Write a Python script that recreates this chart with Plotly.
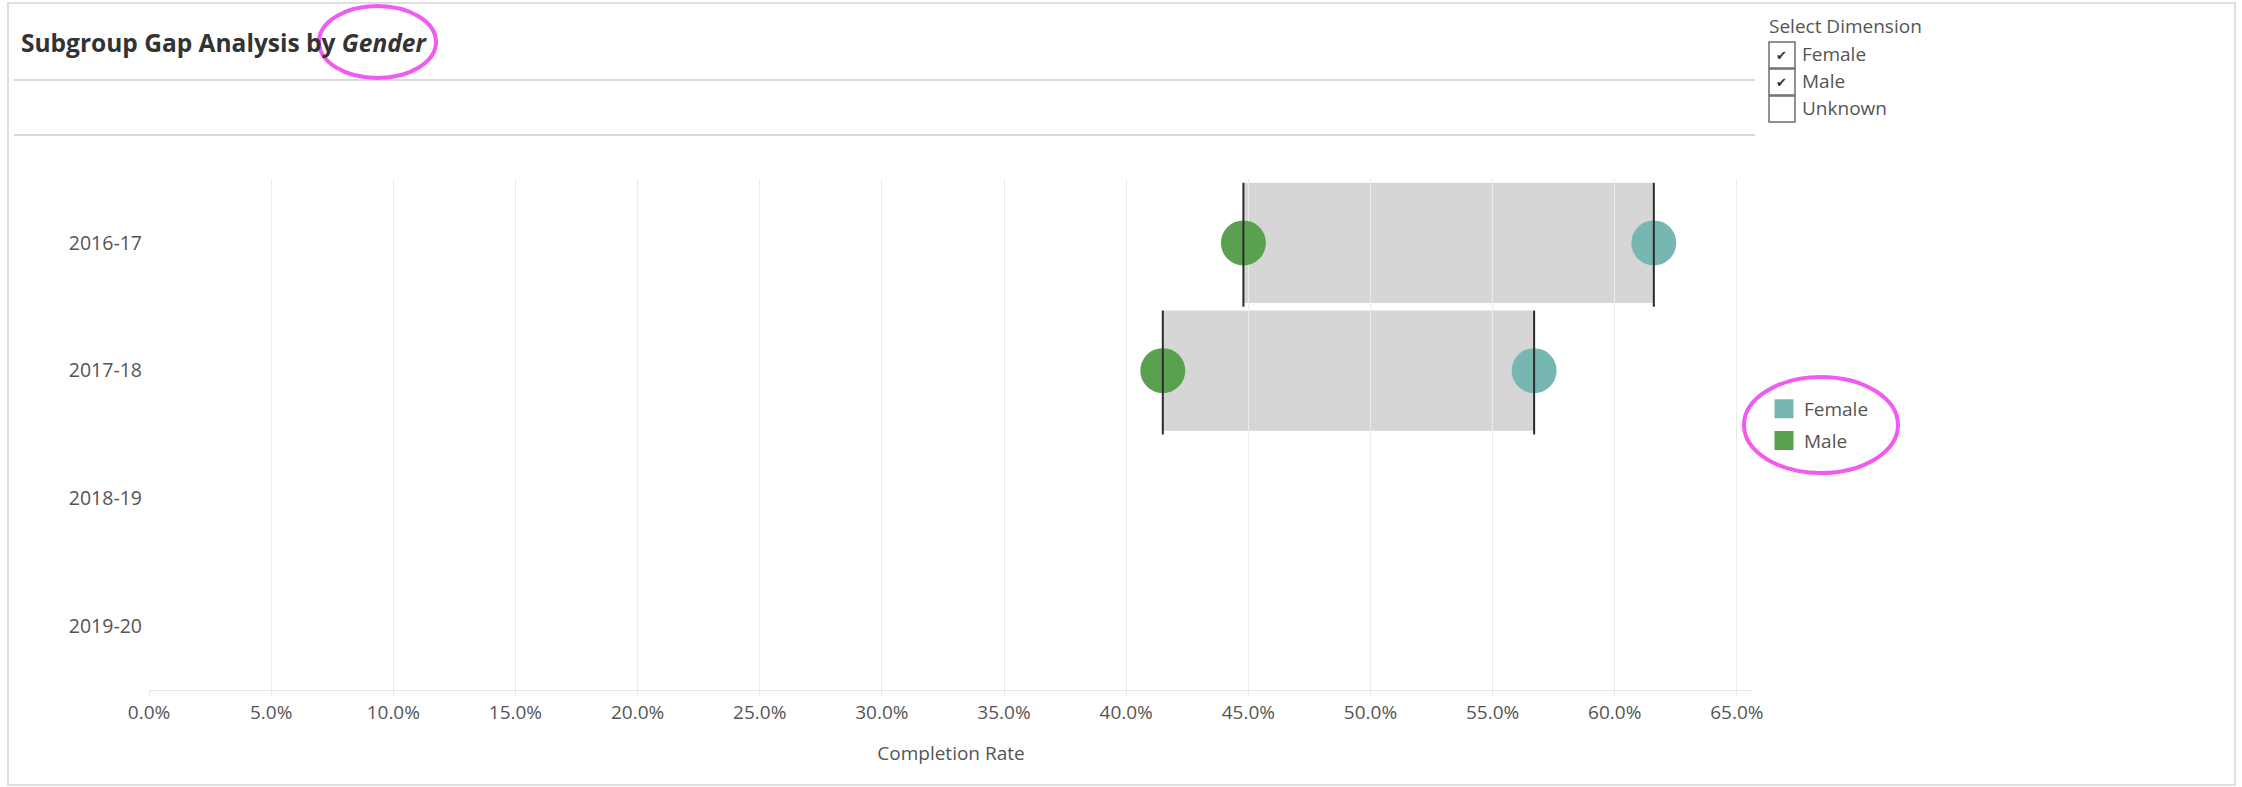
import plotly.graph_objects as go

# ---- data -------------------------------------------------------------
years = ["2016-17", "2017-18", "2018-19", "2019-20"]
female_rate = [0.616, 0.567, None, None]
male_rate = [0.448, 0.415, None, None]
x_ticks = [0.0, 0.05, 0.10, 0.15, 0.20, 0.25, 0.30, 0.35, 0.40, 0.45, 0.50, 0.55, 0.60, 0.65]
dimension_options = ["Female", "Male", "Unknown"]
dimension_checked = [True, True, False]

# ---- styling ----------------------------------------------------------
FEMALE_COLOR = "#76b7b2"
MALE_COLOR = "#59a14f"
RANGE_COLOR = "#d6d6d6"
FONT = "Open Sans"
TEXT = "#555555"
HILITE = "#f05cf0"

W, H = 2242, 787
L, R, T, B = 149, 489, 179, 97
PW, PH = W - L - R, H - T - B


def px(x):
    """pixel x -> paper x"""
    return (x - L) / PW


def py(y):
    """pixel y (from top) -> paper y"""
    return (H - B - y) / PH


fig = go.Figure()

# gap bars between the two subgroup rates (drawn beneath the gridlines)
for i, (f, m) in enumerate(zip(female_rate, male_rate)):
    if f is None or m is None:
        continue
    fig.add_shape(type="rect", xref="x", yref="y", layer="below",
                  x0=min(f, m), x1=max(f, m), y0=i - 0.47, y1=i + 0.47,
                  fillcolor=RANGE_COLOR, line=dict(width=0))

# subgroup dots
fig.add_trace(go.Scatter(x=female_rate, y=years, mode="markers", name="Female",
                         marker=dict(size=45, color=FEMALE_COLOR), showlegend=False,
                         hovertemplate="%{y}<br>Female: %{x:.1%}<extra></extra>"))
fig.add_trace(go.Scatter(x=male_rate, y=years, mode="markers", name="Male",
                         marker=dict(size=45, color=MALE_COLOR), showlegend=False,
                         hovertemplate="%{y}<br>Male: %{x:.1%}<extra></extra>"))

# reference lines at both ends of each gap
lx, ly = [], []
for i, (f, m) in enumerate(zip(female_rate, male_rate)):
    for v in (f, m):
        if v is None:
            continue
        lx += [v, v, None]
        ly += [i - 0.47, i + 0.5, None]
fig.add_trace(go.Scatter(x=lx, y=ly, mode="lines", yaxis="y2",
                         line=dict(color="#2b2b2b", width=2),
                         showlegend=False, hoverinfo="skip"))

# colour legend
for name, col in (("Female", FEMALE_COLOR), ("Male", MALE_COLOR)):
    fig.add_trace(go.Scatter(x=[None], y=[None], mode="markers", name=name,
                             legendgroup=name,
                             marker=dict(symbol="square", size=16, color=col,
                                         line=dict(color=col, width=3))))

fig.update_layout(
    width=W, height=H,
    margin=dict(l=L, r=R, t=T, b=B),
    paper_bgcolor="white", plot_bgcolor="white",
    font=dict(family=FONT, size=19, color=TEXT),
    showlegend=True,
    legend=dict(x=px(1764), y=py(390), xanchor="left", yanchor="top",
                font=dict(size=19, color=TEXT), tracegroupgap=4,
                bgcolor="rgba(0,0,0,0)"),
    xaxis=dict(range=[0, 0.6566], tickvals=x_ticks, tickformat=".1%",
               showgrid=True, gridcolor="#ebebeb", gridwidth=1,
               zeroline=False, showline=True, linecolor="#e8e8e8", linewidth=1,
               ticks="outside", ticklen=5, tickcolor="#e8e8e8",
               tickfont=dict(size=19, color=TEXT),
               title=dict(text="Completion Rate", standoff=22,
                          font=dict(size=19, color=TEXT))),
    yaxis=dict(type="category", categoryorder="array", categoryarray=years,
               range=[3.5, -0.5], showgrid=False, zeroline=False, showline=False,
               ticks="", tickfont=dict(size=19.5, color=TEXT), ticklabelstandoff=6),
    yaxis2=dict(overlaying="y", range=[3.5, -0.5], visible=False),
)

shapes = []
# dashboard frame and header separators
shapes.append(dict(type="rect", xref="paper", yref="paper",
                   x0=px(8), x1=px(2235), y0=py(3), y1=py(785),
                   line=dict(color="#e0e0e0", width=2), layer="below"))
for yy in (80, 135):
    shapes.append(dict(type="line", xref="paper", yref="paper",
                       x0=px(14), x1=px(1755), y0=py(yy), y1=py(yy),
                       line=dict(color="#d9d9d9", width=2)))

annotations = [
    dict(text="<b>Subgroup Gap Analysis by <i>Gender</i></b>", xref="paper", yref="paper",
         x=px(19), y=py(42), xanchor="left", yanchor="middle", showarrow=False,
         font=dict(size=24.5, color="#333333")),
    dict(text="Select Dimension", xref="paper", yref="paper",
         x=px(1767), y=py(26), xanchor="left", yanchor="middle", showarrow=False,
         font=dict(size=19, color=TEXT)),
]

# dimension filter checkboxes
box_tops = [42, 69, 96]
for opt, checked, top in zip(dimension_options, dimension_checked, box_tops):
    shapes.append(dict(type="rect", xref="paper", yref="paper",
                       x0=px(1769), x1=px(1795), y0=py(top), y1=py(top + 26),
                       line=dict(color="#6e6e6e", width=1.5), fillcolor="white"))
    if checked:
        annotations.append(dict(text="✔", xref="paper", yref="paper",
                                x=px(1782), y=py(top + 13), xanchor="center",
                                yanchor="middle", showarrow=False,
                                font=dict(size=13, color="#333333")))
    annotations.append(dict(text=opt, xref="paper", yref="paper",
                            x=px(1800), y=py(top + 12), xanchor="left",
                            yanchor="middle", showarrow=False,
                            font=dict(size=19, color=TEXT)))

# highlight ellipses
shapes.append(dict(type="circle", xref="paper", yref="paper",
                   x0=px(319), x1=px(436), y0=py(6), y1=py(78),
                   line=dict(color=HILITE, width=4)))
shapes.append(dict(type="circle", xref="paper", yref="paper",
                   x0=px(1744), x1=px(1898), y0=py(377), y1=py(473),
                   line=dict(color=HILITE, width=4)))

for s in shapes:
    fig.add_shape(**s)
fig.update_layout(annotations=annotations)

fig.write_html("out.html")
